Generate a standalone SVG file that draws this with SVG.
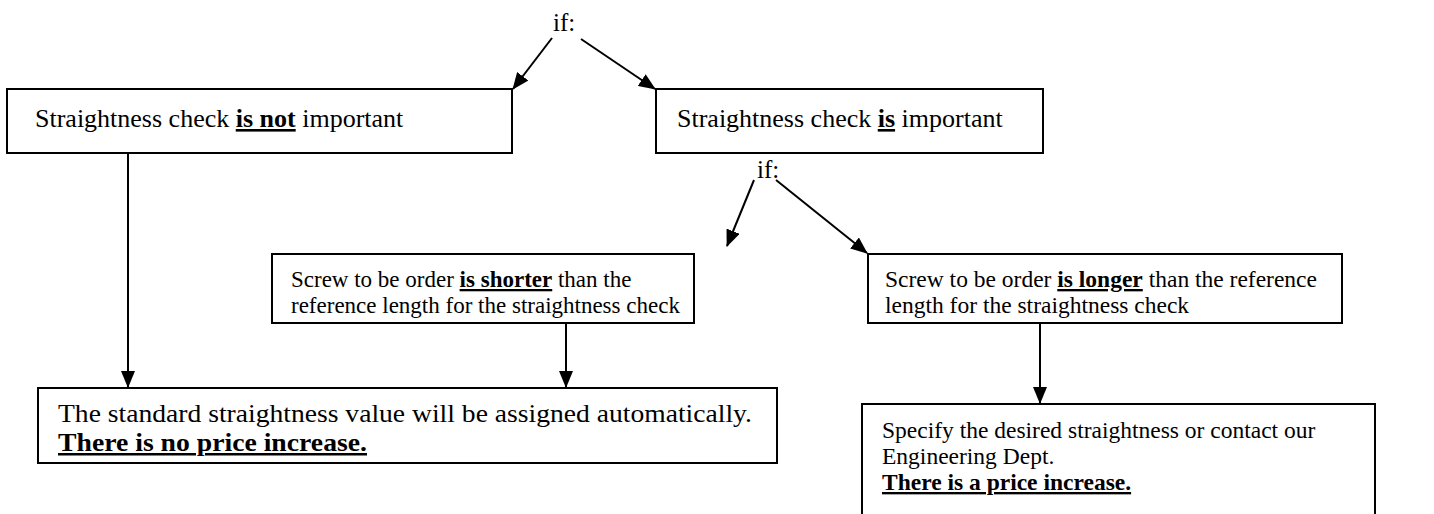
<svg xmlns="http://www.w3.org/2000/svg" width="1434" height="514" viewBox="0 0 1434 514">
<style>
.box{fill:#fff;stroke:#000;stroke-width:2}
.t{font-family:"Liberation Serif","Times New Roman",serif;font-size:26px;fill:#000}
.m{font-size:23.5px}
.b{font-weight:bold;text-decoration:underline}
.c{stroke:#000;stroke-width:2;fill:none;marker-end:url(#ah)}
</style>
<defs>
<marker id="ah" markerUnits="userSpaceOnUse" markerWidth="17" markerHeight="14" refX="16" refY="7" orient="auto">
<path d="M0,0 L17,7 L0,14 z" fill="#000"/>
</marker>
</defs>
<rect width="1434" height="514" fill="#fff"/>
<g id="connectors">
<line class="c" x1="552" y1="38" x2="513" y2="89"/>
<line class="c" x1="581" y1="39" x2="655" y2="89"/>
<line class="c" x1="754" y1="180" x2="727" y2="246"/>
<line class="c" x1="776" y1="180" x2="867" y2="253"/>
<line class="c" x1="128" y1="153" x2="128" y2="387"/>
<line class="c" x1="566" y1="323" x2="566" y2="387"/>
<line class="c" x1="1040" y1="323" x2="1040" y2="403"/>
</g>
<g id="if1"><text class="t" x="553" y="31" style="font-size:25px">if:</text></g>
<g id="if2"><text class="t" x="757" y="178" style="font-size:25px">if:</text></g>
<g id="n1">
<rect class="box" x="7" y="89" width="505" height="64"/>
<text class="t" x="35" y="127">Straightness check <tspan class="b">is not</tspan> important</text>
</g>
<g id="n2">
<rect class="box" x="656" y="89" width="387" height="64"/>
<text class="t" x="677" y="127">Straightness check <tspan class="b">is</tspan> important</text>
</g>
<g id="n3">
<rect class="box" x="272" y="254" width="422" height="69"/>
<text class="t" x="291" y="287" style="font-size:23px">Screw to be order <tspan class="b">is shorter</tspan> than the</text>
<text class="t" x="291" y="313" style="font-size:23px">reference length for the straightness check</text>
</g>
<g id="n4">
<rect class="box" x="868" y="254" width="474" height="69"/>
<text class="t m" x="885" y="287">Screw to be order <tspan class="b">is longer</tspan> than the reference</text>
<text class="t m" x="885" y="313">length for the straightness check</text>
</g>
<g id="n5">
<rect class="box" x="38" y="388" width="739" height="75"/>
<text class="t" x="58" y="422" style="font-size:25px" textLength="694" lengthAdjust="spacingAndGlyphs">The standard straightness value will be assigned automatically.</text>
<text class="t" x="58" y="451" style="font-size:25px" textLength="309" lengthAdjust="spacingAndGlyphs"><tspan class="b">There is no price increase.</tspan></text>
</g>
<g id="n6">
<rect class="box" x="862" y="404" width="513" height="120"/>
<text class="t m" x="882" y="438">Specify the desired straightness or contact our</text>
<text class="t m" x="882" y="464">Engineering Dept.</text>
<text class="t m" x="882" y="490"><tspan class="b">There is a price increase.</tspan></text>
</g>
</svg>
